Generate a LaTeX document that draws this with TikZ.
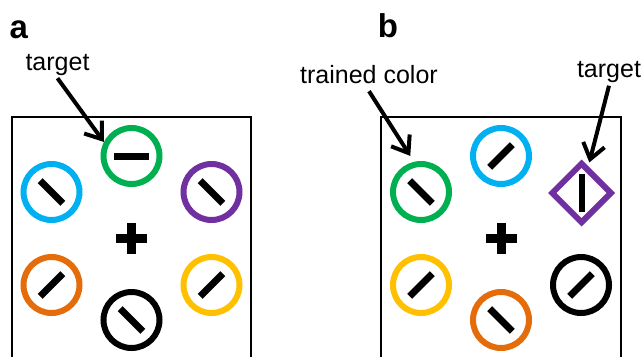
\documentclass[tikz,border=0pt]{standalone}
\usepackage{fontspec}
\setmainfont{Liberation Sans}
\usetikzlibrary{arrows.meta,positioning,shapes.geometric,calc}

\definecolor{ringgreen}{RGB}{0,176,80}
\definecolor{ringblue}{RGB}{0,176,240}
\definecolor{ringpurple}{RGB}{112,48,160}
\definecolor{ringorange}{RGB}{228,108,10}
\definecolor{ringyellow}{RGB}{255,192,0}

\tikzset{
  ring/.style={circle, draw=#1, line width=6pt, minimum size=56pt, inner sep=0pt},
  gem/.style={diamond, draw=#1, line width=6pt, minimum size=61pt, inner sep=0pt},
  bar/.style={rectangle, fill=black, inner sep=0pt, minimum width=32pt, minimum height=7pt},
  fixmark/.style={line width=9pt, draw=black},
  frame/.style={line width=2.5pt, draw=black},
  pointer/.style={line width=4pt, -{Straight Barb[length=15pt, width=22pt]}},
  lbl/.style={font=\fontsize{25}{30}\selectfont, inner sep=2pt, text depth=6pt, anchor=base},
  panel/.style={font=\fontsize{33}{33}\selectfont\bfseries, inner sep=0pt, anchor=base west},
}

\begin{document}
\begin{tikzpicture}[x=1pt, y=-1pt]
\useasboundingbox (0,0) rectangle (644,356);

% ============================ panel a ===================================
\node[panel] (pa) at (9.4,38) {a};
\draw[frame] (12,360) |- (251,117) -- (251,360);

\node[ring=ringgreen]  (aG) at (131.5,156) {};
\node[ring=ringblue]   (aB) at (51.5,192) {};
\node[ring=ringpurple] (aP) at (211.5,192) {};
\node[ring=ringorange] (aO) at (51.5,285) {};
\node[ring=ringyellow] (aY) at (211.5,285) {};
\node[ring=black]      (aK) at (131.5,320) {};

\node[bar, minimum width=35pt] (aGbar) at (aG) {};
\node[bar, rotate=-45] (aBbar) at (aB) {};
\node[bar, rotate=-45] (aPbar) at (aP) {};
\node[bar, rotate=45]  (aObar) at (aO) {};
\node[bar, rotate=45]  (aYbar) at (aY) {};
\node[bar, rotate=-45] (aKbar) at (aK) {};

\coordinate (fixA) at (131.7,238);
\draw[fixmark] (fixA) +(-15.5,0) -- +(15.5,0) (fixA) +(0,-15.5) -- +(0,15.5);

\node[lbl] (tgtA) at (57.5,70) {target};
\draw[pointer] (tgtA.south) -- (aG.153);

% ============================ panel b ===================================
\node[panel] (pb) at (377.7,37) {b};
\draw[frame] (381,360) |- (621,117) -- (621,360);

\node[ring=ringblue]   (bB) at (501,156) {};
\node[ring=ringgreen]  (bG) at (421,192) {};
\node[gem=ringpurple]  (bD) at (581.5,193) {};
\node[ring=ringyellow] (bY) at (421,285) {};
\node[ring=black]      (bK) at (581,285) {};
\node[ring=ringorange] (bO) at (501,320) {};

\node[bar, rotate=45]  (bBbar) at (bB) {};
\node[bar, rotate=-45] (bGbar) at (bG) {};
\node[bar, rotate=90, minimum width=38pt, minimum height=6pt] (bDbar) at (bD) {};
\node[bar, rotate=45]  (bYbar) at (bY) {};
\node[bar, rotate=45]  (bKbar) at (bK) {};
\node[bar, rotate=-45] (bObar) at (bO) {};

\coordinate (fixB) at (501.5,238);
\draw[fixmark] (fixB) +(-15.5,0) -- +(15.5,0) (fixB) +(0,-15.5) -- +(0,15.5);

\node[lbl] (trn)  at (369,83) {trained color};
\node[lbl] (tgtB) at (609,77.5) {target};
\draw[pointer, shorten >=7pt] (trn.south) -- (bG.103);
\draw[pointer, shorten >=4pt] (tgtB.south) -- (bD);

\end{tikzpicture}
\end{document}
